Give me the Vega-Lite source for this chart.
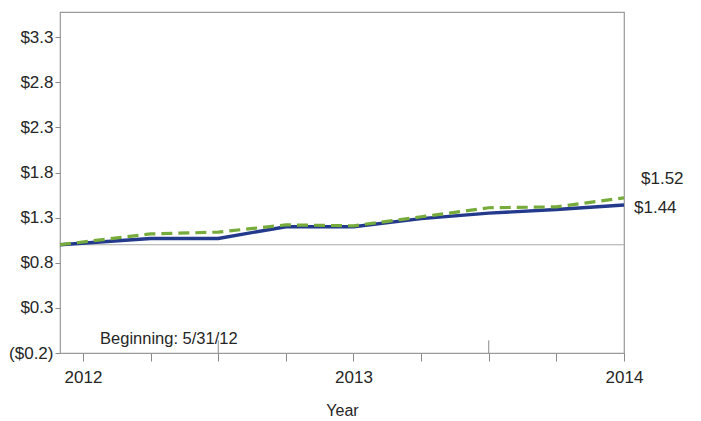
{
  "$schema": "https://vega.github.io/schema/vega-lite/v6.json",
  "width": 564,
  "height": 341,
  "autosize": {"type": "none"},
  "padding": {"left": 60, "top": 12, "right": 77, "bottom": 68},
  "config": {
    "font": "Liberation Sans",
    "view": {"stroke": "#9a9a9a", "strokeWidth": 1.2},
    "axis": {"grid": false, "domain": false, "labelFont": "Liberation Sans", "titleFont": "Liberation Sans", "labelColor": "#262626", "titleColor": "#262626", "tickColor": "#8a8a8a"}
  },
  "datasets": {
    "lines": [
      {"t": 2011.915, "value": 1.00, "series": "A"},
      {"t": 2012.25, "value": 1.07, "series": "A"},
      {"t": 2012.5, "value": 1.07, "series": "A"},
      {"t": 2012.75, "value": 1.20, "series": "A"},
      {"t": 2013.0, "value": 1.20, "series": "A"},
      {"t": 2013.25, "value": 1.29, "series": "A"},
      {"t": 2013.5, "value": 1.35, "series": "A"},
      {"t": 2013.75, "value": 1.39, "series": "A"},
      {"t": 2014.0, "value": 1.44, "series": "A"},
      {"t": 2011.915, "value": 1.00, "series": "B"},
      {"t": 2012.25, "value": 1.12, "series": "B"},
      {"t": 2012.5, "value": 1.14, "series": "B"},
      {"t": 2012.75, "value": 1.22, "series": "B"},
      {"t": 2013.0, "value": 1.21, "series": "B"},
      {"t": 2013.25, "value": 1.31, "series": "B"},
      {"t": 2013.5, "value": 1.41, "series": "B"},
      {"t": 2013.75, "value": 1.42, "series": "B"},
      {"t": 2014.0, "value": 1.52, "series": "B"}
    ],
    "midTicks": [
      {"t": 2012.5, "y0": -0.2, "y1": -0.06},
      {"t": 2013.5, "y0": -0.2, "y1": -0.06}
    ]
  },
  "layer": [
    {
      "data": {"values": [{"v": 1.0}]},
      "mark": {"type": "rule", "color": "#a8a8a8", "strokeWidth": 1.2},
      "encoding": {"y": {"field": "v", "type": "quantitative", "scale": {"domain": [-0.2, 3.58]}}}
    },
    {
      "data": {"name": "midTicks"},
      "mark": {"type": "rule", "color": "#8a8a8a", "strokeWidth": 1},
      "encoding": {
        "x": {"field": "t", "type": "quantitative"},
        "y": {"field": "y0", "type": "quantitative"},
        "y2": {"field": "y1"}
      }
    },
    {
      "data": {"name": "lines"},
      "transform": [{"filter": "datum.series == 'A'"}],
      "mark": {"type": "line", "color": "#22398c", "strokeWidth": 3.4},
      "encoding": {
        "x": {
          "field": "t", "type": "quantitative", "title": "Year",
          "scale": {"domain": [2011.915, 2014.0], "nice": false, "zero": false},
          "axis": {
            "values": [2012, 2012.25, 2012.5, 2012.75, 2013, 2013.25, 2013.5, 2013.75, 2014],
            "labelExpr": "datum.value % 1 == 0 ? format(datum.value, 'd') : ''",
            "labelFlush": false, "labelBound": false, "labelOverlap": false,
            "labelFontSize": 17, "labelPadding": 8, "tickSize": 8,
            "titleFontSize": 16, "titleFontWeight": "normal", "titlePadding": 17
          }
        },
        "y": {
          "field": "value", "type": "quantitative", "title": null,
          "scale": {"domain": [-0.2, 3.58], "nice": false, "zero": false},
          "axis": {
            "values": [-0.2, 0.3, 0.8, 1.3, 1.8, 2.3, 2.8, 3.3],
            "labelExpr": "datum.value < 0 ? '($' + format(-datum.value, '.1f') + ')' : '$' + format(datum.value, '.1f')",
            "labelFlush": false, "labelOverlap": false,
            "labelFontSize": 17, "tickSize": 5, "labelPadding": 2
          }
        }
      }
    },
    {
      "data": {"name": "lines"},
      "transform": [{"filter": "datum.series == 'B'"}],
      "mark": {"type": "line", "color": "#77ac3c", "strokeWidth": 3.2, "strokeDash": [11, 6]},
      "encoding": {
        "x": {"field": "t", "type": "quantitative"},
        "y": {"field": "value", "type": "quantitative"}
      }
    },
    {
      "data": {"values": [{"t": 2014.0, "value": 1.73, "label": "$1.52"}]},
      "mark": {"type": "text", "align": "left", "baseline": "middle", "fontSize": 17, "color": "#262626", "dx": 17},
      "encoding": {
        "x": {"field": "t", "type": "quantitative"},
        "y": {"field": "value", "type": "quantitative"},
        "text": {"field": "label"}
      }
    },
    {
      "data": {"values": [{"t": 2014.0, "value": 1.41, "label": "$1.44"}]},
      "mark": {"type": "text", "align": "left", "baseline": "middle", "fontSize": 17, "color": "#262626", "dx": 10},
      "encoding": {
        "x": {"field": "t", "type": "quantitative"},
        "y": {"field": "value", "type": "quantitative"},
        "text": {"field": "label"}
      }
    },
    {
      "data": {"values": [{"t": 2012.063, "value": -0.1, "label": "Beginning: 5/31/12"}]},
      "mark": {"type": "text", "align": "left", "baseline": "alphabetic", "fontSize": 16.5, "color": "#262626"},
      "encoding": {
        "x": {"field": "t", "type": "quantitative"},
        "y": {"field": "value", "type": "quantitative"},
        "text": {"field": "label"}
      }
    }
  ]
}
